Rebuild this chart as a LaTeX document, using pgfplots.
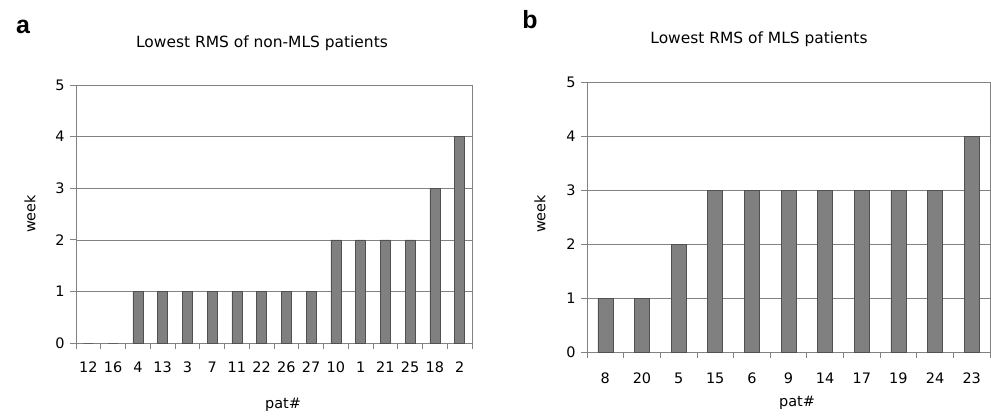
\documentclass[border=0pt]{standalone}
\usepackage{pgfplots}
\pgfplotsset{compat=1.18}
\usepackage{fontspec}
\setmainfont{DejaVu Sans}
\newfontfamily\labelfont{Liberation Sans}
\definecolor{barfill}{RGB}{128,128,128}
\definecolor{bardraw}{RGB}{80,80,80}
\definecolor{axgray}{RGB}{130,130,130}

\pgfplotsset{
  rmsaxis/.style={
    scale only axis,
    anchor=south west,
    ymin=0, ymax=5, ytick={0,1,...,5},
    ymajorgrids, grid style={axgray, line width=0.6pt},
    axis line style={axgray, line width=0.8pt},
    tick style={axgray, line width=0.8pt},
    tick align=outside,
    xtick pos=bottom, ytick pos=left,
    major x tick style={draw=none},
    minor tick length=6bp, major tick length=6bp,
    xtick=data,
    ticklabel style={font=\fontsize{14.5}{16}\selectfont},
    yticklabel style={xshift=-2bp},
    /pgf/number format/assume math mode=true,
    clip=false,
  },
}

\begin{document}
\begin{tikzpicture}
\path (0bp,0bp) rectangle (991bp,414bp);

% panel a
\begin{axis}[rmsaxis, at={(76bp,71bp)}, width=396bp, height=258bp,
  xmin=-0.5, xmax=15.5,
  minor xtick={-0.5,0.5,...,15.5},
  xticklabels={12,16,4,13,3,7,11,22,26,27,10,1,21,25,18,2},
  xticklabel style={yshift=-9bp}]
\addplot[ybar, bar width=10bp, fill=barfill, draw=bardraw, line width=0.5pt] coordinates {
(0,0) (1,0) (2,1) (3,1) (4,1) (5,1) (6,1) (7,1) (8,1) (9,1)
(10,2) (11,2) (12,2) (13,2) (14,3) (15,4)};
\end{axis}

% panel b
\begin{axis}[rmsaxis, at={(587bp,62bp)}, width=403bp, height=270bp,
  xmin=-0.5, xmax=10.5,
  minor xtick={-0.5,0.5,...,10.5},
  xticklabels={8,20,5,15,6,9,14,17,19,24,23},
  xticklabel style={yshift=-11bp}]
\addplot[ybar, bar width=15bp, fill=barfill, draw=bardraw, line width=0.5pt] coordinates {
(0,1) (1,1) (2,2) (3,3) (4,3) (5,3) (6,3) (7,3) (8,3) (9,3) (10,4)};
\end{axis}

\node[font=\labelfont\bfseries\fontsize{25}{27}\selectfont] at (23bp,387bp) {a};
\node[font=\labelfont\bfseries\fontsize{25}{27}\selectfont] at (530bp,394bp) {b};
\node[font=\fontsize{15.5}{18}\selectfont] at (262bp,371bp) {Lowest RMS of non-MLS patients};
\node[font=\fontsize{15.5}{18}\selectfont] at (759bp,375bp) {Lowest RMS of MLS patients};
\node[font=\fontsize{14.5}{16}\selectfont, rotate=90] at (30bp,200bp) {week};
\node[font=\fontsize{14.5}{16}\selectfont, rotate=90] at (540bp,200bp) {week};
\node[font=\fontsize{14.5}{16}\selectfont] at (283bp,9bp) {pat\#};
\node[font=\fontsize{14.5}{16}\selectfont] at (797bp,11bp) {pat\#};
\end{tikzpicture}
\end{document}
